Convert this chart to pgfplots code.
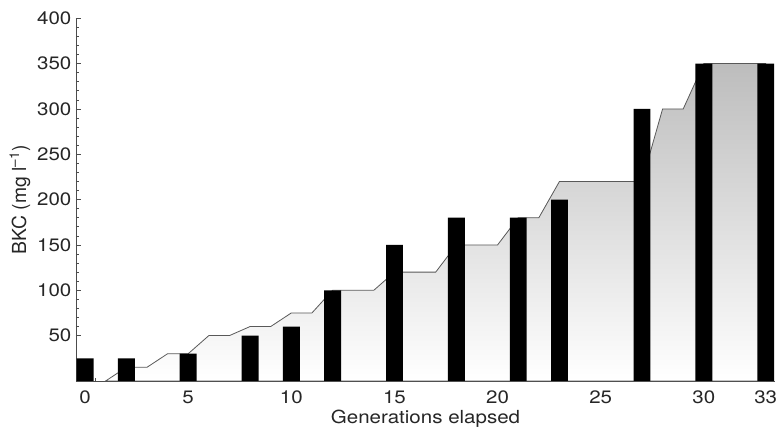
\documentclass[border=0pt]{standalone}
\usepackage{pgfplots}
\pgfplotsset{compat=1.18}
\usepackage{fontspec}
\setmainfont{TeX Gyre Heros}
\begin{document}
\begin{tikzpicture}
\begin{axis}[
  name=ax,
  scale only axis,
  width=524.25pt, height=272pt,
  xmin=-0.44, xmax=33.45,
  ymin=0, ymax=400,
  axis lines=left,
  axis line style={-, black!70, line width=0.6pt},
  xtick={0,5,10,15,20,25,30,33},
  minor xtick={0.5,1.5,...,32.5},
  ytick={50,100,...,400},
  minor y tick num=4,
  tick align=inside,
  major tick length=3.5pt,
  minor tick length=2pt,
  tick style={black!70, line width=0.5pt},
  /pgf/number format/assume math mode=true,
  tick label style={font=\fontsize{13.5}{16}\selectfont, text=black!85, xscale=1.14},
  xticklabel style={yshift=-4pt},
  yticklabel style={xshift=0.5pt},
  label style={font=\fontsize{13.5}{16}\selectfont, text=black!85},
  xlabel={Generations elapsed},
  xlabel style={at={(axis description cs:0.5,-0.117)}, anchor=base, xscale=1.14},
  ylabel={BKC (mg l\textsuperscript{–1})},
  ylabel style={at={(axis description cs:-0.0801,0.5)}, anchor=center, font=\fontsize{14.5}{16}\selectfont},
  clip=false,
]
% shaded step line
\addplot[draw=black!65, line width=0.6pt, top color=black!26, bottom color=white]
  coordinates {
  (1,0) (2,15) (3,15) (4,30) (5,30) (6,50) (7,50) (8,60) (9,60) (10,75)
  (11,75) (12,100) (14,100) (15,120) (17,120) (18,150) (20,150) (21,180)
  (22,180) (23,220) (27,220) (28,300) (29,300) (30,350) (33,350)
  } \closedcycle;
% bars
\addplot[ybar, bar width=0.82, fill=black, draw=none]
  coordinates {
  (0,25) (2,25) (5,30) (8,50) (10,60) (12,100) (15,150) (18,180)
  (21,180) (23,200) (27,300) (30,350) (33,350)
  };
\end{axis}
\pgfresetboundingbox
\path[use as bounding box] ([xshift=-57pt,yshift=-39.75pt]ax.south west) rectangle ([xshift=0.75pt,yshift=13.7pt]ax.north east);
\end{tikzpicture}
\end{document}
